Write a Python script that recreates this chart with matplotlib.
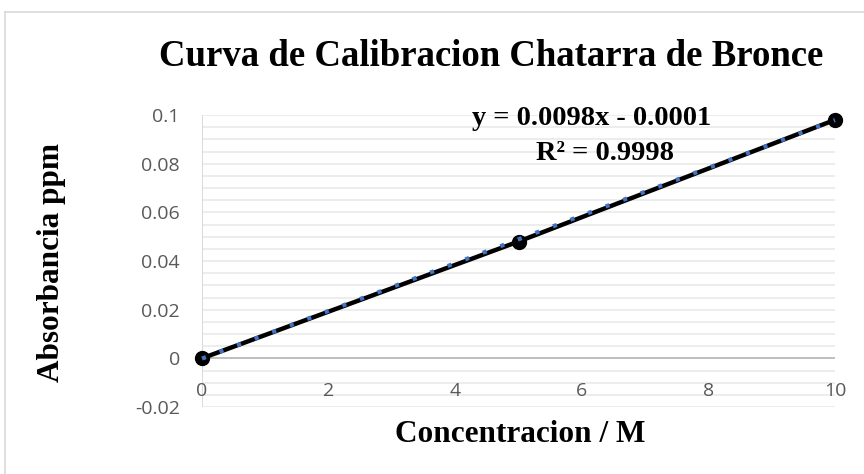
import numpy as np
import matplotlib.pyplot as plt
from matplotlib.ticker import MultipleLocator
from matplotlib.lines import Line2D

# datos de calibracion
concentracion = [0, 5, 10]
absorbancia = [0.0, 0.048, 0.098]
pendiente = 0.0098
intercepto = -0.0001
xticks = [0, 2, 4, 6, 8, 10]
yticks = [-0.02, 0, 0.02, 0.04, 0.06, 0.08, 0.1]
ytick_labels = ['-0.02', '0', '0.02', '0.04', '0.06', '0.08', '0.1']

W, H = 864, 474
fig = plt.figure(figsize=(W / 100, H / 100), dpi=100)

# borde del grafico (solo arriba e izquierda visibles)
fig.lines.append(Line2D([5 / W, 1], [1 - 12 / H, 1 - 12 / H], transform=fig.transFigure, color='#d9d9d9', lw=1.2))
fig.lines.append(Line2D([5 / W, 5 / W], [0, 1 - 12 / H], transform=fig.transFigure, color='#d9d9d9', lw=1.2))

ax = fig.add_axes([202 / W, 1 - 407 / H, (835 - 202) / W, (407 - 115) / H])
ax.set_xlim(0, 10)
ax.set_ylim(-0.02, 0.1)
ax.yaxis.set_major_locator(MultipleLocator(0.02))
ax.yaxis.set_minor_locator(MultipleLocator(0.005))
ax.grid(True, which='both', axis='y', color='#ececec', lw=1.3)
ax.set_axisbelow(True)
for s in ax.spines.values():
    s.set_visible(False)
ax.axhline(0, color='#bfbfbf', lw=1.4, zorder=1)
ax.axvline(0, color='#d9d9d9', lw=1.4, zorder=1)

# serie + linea de tendencia
ax.plot(concentracion, absorbancia, color='black', lw=3.2, marker='o', ms=10, zorder=3, clip_on=False)
xt = np.array([0, 10])
ax.plot(xt, pendiente * xt + intercepto, color='#4472c4', lw=3, ls=(0, (1, 3.5)), zorder=4, clip_on=False)

ax.tick_params(axis='both', which='both', length=0)
ax.set_yticks(yticks)
ax.set_yticklabels(ytick_labels, fontfamily='Open Sans', fontsize=14, color='#595959')
ax.tick_params(axis='y', pad=16)
ax.set_xticks(xticks)
ax.set_xticklabels([])
for x in xticks:
    ax.text(x, -0.0136, str(x), ha='center', va='center', fontsize=14, color='#595959', fontfamily='Open Sans')

serif = 'Liberation Serif'
fig.text(491 / W, 1 - 57 / H, 'Curva de Calibracion Chatarra de Bronce', ha='center', va='center',
         fontsize=26.5, fontweight='bold', fontfamily=serif)
fig.text(520 / W, 1 - 434 / H, 'Concentracion / M', ha='center', va='center',
         fontsize=22.5, fontweight='bold', fontfamily=serif)
fig.text(51 / W, 1 - 263 / H, 'Absorbancia ppm', ha='center', va='center', rotation=90,
         fontsize=22.5, fontweight='bold', fontfamily=serif)
fig.text(592 / W, 1 - 119 / H, 'y = 0.0098x - 0.0001', ha='center', va='center',
         fontsize=20.5, fontweight='bold', fontfamily=serif)
fig.text(605 / W, 1 - 153 / H, 'R² = 0.9998', ha='center', va='center',
         fontsize=20.5, fontweight='bold', fontfamily=serif)

fig.savefig('out.png', dpi=100)
